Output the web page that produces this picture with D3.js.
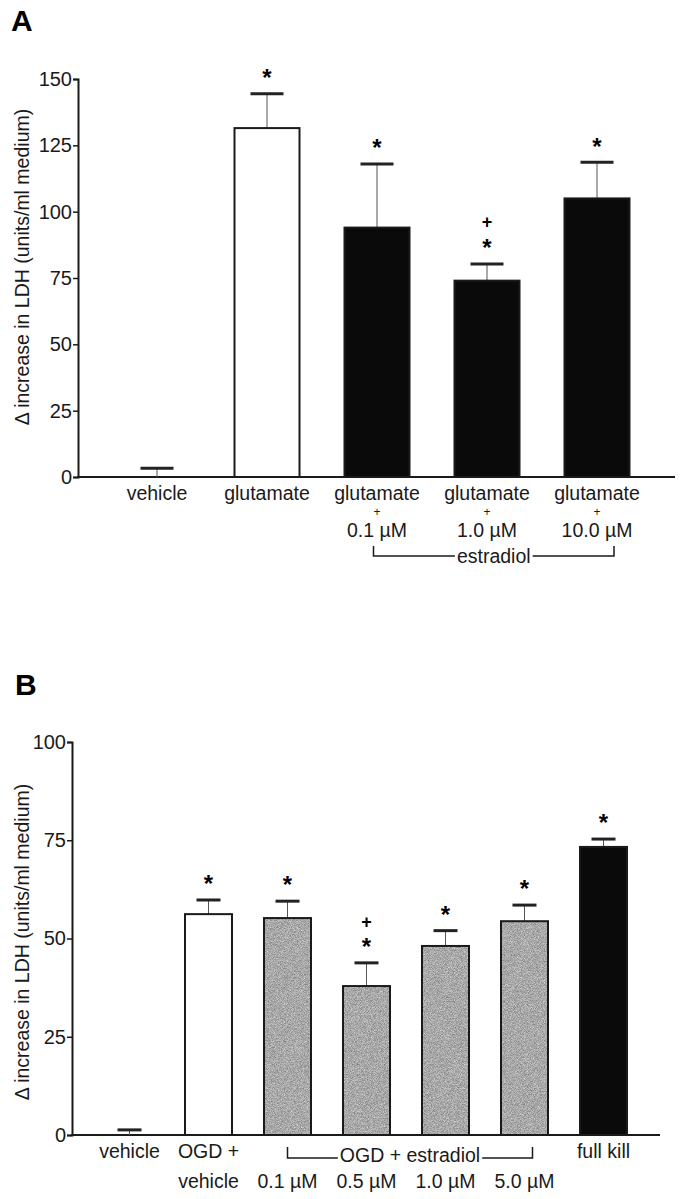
<!DOCTYPE html>
<html>
<head>
<meta charset="utf-8">
<script src="https://cdn.jsdelivr.net/npm/d3@7"></script>
<style>
  html, body { margin: 0; padding: 0; background: #fff; }
  svg { display: block; font-family: "Liberation Sans", Arial, Helvetica, sans-serif; }
</style>
</head>
<body>
<svg id="chart" width="680" height="1199"></svg>
<script>
// ---------- Panel A data ----------
const catsA   = ["vehicle", "glutamate", "glut+0.1", "glut+1.0", "glut+10.0"];
const meansA  = [0, 131.5, 94, 74, 105];
const semA    = [3.3, 12.9, 24, 6.3, 13.6];
const groupA  = ["none", "insult", "treat", "treat", "treat"];
const starA   = [false, true, true, true, true];
const plusA   = [false, false, false, true, false];
const labelsA = [["vehicle"], ["glutamate"], ["glutamate", "+", "0.1 µM"], ["glutamate", "+", "1.0 µM"], ["glutamate", "+", "10.0 µM"]];
const ticksA  = [0, 25, 50, 75, 100, 125, 150];
const bracketA = "estradiol";

// ---------- Panel B data ----------
const catsB   = ["vehicle", "OGD+vehicle", "0.1", "0.5", "1.0", "5.0", "full kill"];
const meansB  = [0, 56.2, 55.2, 37.9, 48.1, 54.4, 73.3];
const semB    = [1.3, 3.6, 4.3, 5.9, 3.9, 4.1, 2.0];
const groupB  = ["none", "insult", "treat", "treat", "treat", "treat", "kill"];
const starB   = [false, true, true, true, true, true, true];
const plusB   = [false, false, false, true, false, false, false];
const labelsB = [["vehicle", ""], ["OGD +", "vehicle"], ["", "0.1 µM"], ["", "0.5 µM"], ["", "1.0 µM"], ["", "5.0 µM"], ["full kill", ""]];
const ticksB  = [0, 25, 50, 75, 100];
const bracketB = "OGD + estradiol";

const yTitle = "Δ increase in LDH (units/ml medium)";

const svg = d3.select("#chart");
const defs = svg.append("defs");
const f = defs.append("filter").attr("id", "grain")
  .attr("x", 0).attr("y", 0).attr("width", "100%").attr("height", "100%")
  .attr("color-interpolation-filters", "sRGB");
f.append("feTurbulence").attr("type", "fractalNoise").attr("baseFrequency", 1.3)
  .attr("numOctaves", 1).attr("seed", 7).attr("result", "noise");
f.append("feColorMatrix").attr("in", "noise").attr("type", "matrix")
  .attr("values", "0.6 0 0 0 0.36  0.6 0 0 0 0.36  0.6 0 0 0 0.36  0 0 0 0 1").attr("result", "g");
f.append("feComposite").attr("in", "g").attr("in2", "SourceGraphic").attr("operator", "in");

const INK = "#1a1a1a";
const FS = 19.5;

function panel(cfg) {
  const g = svg.append("g");
  const x = d3.scaleBand().domain(cfg.cats).range(cfg.xRange)
    .paddingInner(cfg.pad).paddingOuter(cfg.pad / 2);
  const y = d3.scaleLinear().domain(cfg.yDomain).range(cfg.yRange);

  // y axis
  const ax = g.append("g").attr("transform", `translate(${cfg.axisX},0)`)
    .call(d3.axisLeft(y).tickValues(cfg.ticks).tickSize(5).tickPadding(1).tickFormat(d3.format("d")));
  ax.select(".domain").attr("stroke", INK).attr("stroke-width", 2);
  ax.selectAll(".tick line").attr("stroke", INK).attr("stroke-width", 1.5);
  ax.selectAll(".tick text").attr("fill", INK).style("font-size", "20px")
    .style("font-family", "'Liberation Sans', Arial, sans-serif");

  // x axis line
  g.append("line").attr("x1", cfg.axisX - 1).attr("x2", cfg.xEnd)
    .attr("y1", y(0)).attr("y2", y(0)).attr("stroke", INK).attr("stroke-width", 2);

  // y title
  g.append("text")
    .attr("transform", `translate(29,${cfg.titleY}) rotate(-90)`)
    .attr("text-anchor", "middle").attr("fill", INK).style("font-size", "19.5px")
    .text(yTitle);

  // panel letter
  g.append("text").attr("x", cfg.letterX).attr("y", cfg.letterY)
    .attr("fill", "#000").style("font-size", cfg.letterSize + "px").style("font-weight", 900)
    .text(cfg.letter);

  const idx = d3.range(cfg.cats.length);
  const bw = x.bandwidth();
  const cx = i => x(cfg.cats[i]) + bw / 2;

  // error bars (behind bars)
  idx.forEach(i => {
    const top = y(cfg.means[i] + cfg.sem[i]);
    g.append("line").attr("x1", cx(i)).attr("x2", cx(i))
      .attr("y1", y(cfg.means[i])).attr("y2", top)
      .attr("stroke", "#555").attr("stroke-width", 1);
    g.append("line").attr("x1", cx(i) - cfg.capW / 2).attr("x2", cx(i) + cfg.capW / 2)
      .attr("y1", top).attr("y2", top)
      .attr("stroke", "#222").attr("stroke-width", 3);
  });

  // bars
  idx.forEach(i => {
    const grp = cfg.groups[i];
    if (grp === "none") return;
    const bx = x(cfg.cats[i]), by = y(cfg.means[i]), bh = y(0) - y(cfg.means[i]);
    if (grp === "treat" && cfg.treatGrain) {
      g.append("rect").attr("x", bx).attr("y", by).attr("width", bw).attr("height", bh)
        .attr("fill", "#aaa").attr("filter", "url(#grain)");
      g.append("rect").attr("x", bx).attr("y", by).attr("width", bw).attr("height", bh)
        .attr("fill", "none").attr("stroke", INK).attr("stroke-width", 2);
    } else {
      const fill = grp === "insult" ? "#fff" : "#0a0a0a";
      g.append("rect").attr("x", bx).attr("y", by).attr("width", bw).attr("height", bh)
        .attr("fill", fill).attr("stroke", INK).attr("stroke-width", 2);
    }
  });

  // significance marks
  idx.forEach(i => {
    const cap = y(cfg.means[i] + cfg.sem[i]);
    if (cfg.star[i]) {
      const c = cap - 21;
      g.append("text").attr("x", cx(i)).attr("y", c + 0.55 * 24).attr("text-anchor", "middle")
        .style("font-size", "24px").style("font-weight", "bold").attr("fill", "#000").text("*");
    }
    if (cfg.plus[i]) {
      const c = cap - 21 - cfg.plusGap;
      g.append("text").attr("x", cx(i)).attr("y", c + 0.34 * 18).attr("text-anchor", "middle")
        .style("font-size", "18px").style("font-weight", "bold").attr("fill", "#000").text("+");
    }
  });

  // x labels
  idx.forEach(i => {
    cfg.labels[i].forEach((t, k) => {
      if (!t) return;
      const small = (t === "+");
      g.append("text").attr("x", cx(i)).attr("y", cfg.lineY[k])
        .attr("text-anchor", "middle").attr("fill", INK)
        .style("font-size", small ? "12px" : FS + "px").text(t);
    });
  });

  // bracket
  const b = cfg.bracket;
  const lx = cx(b.from) + b.dl, rx = cx(b.to) + b.dr;
  const mid = (lx + rx) / 2;
  const bt = g.append("text").attr("x", mid).attr("y", b.textY).attr("text-anchor", "middle")
    .attr("fill", INK).style("font-size", FS + "px").text(b.text);
  const tw = bt.node().getComputedTextLength();
  const path = d3.path();
  path.moveTo(lx, b.top); path.lineTo(lx, b.lineY); path.lineTo(mid - tw / 2 - 2, b.lineY);
  path.moveTo(mid + tw / 2 + 2, b.lineY); path.lineTo(rx, b.lineY); path.lineTo(rx, b.top);
  g.append("path").attr("d", path.toString()).attr("fill", "none")
    .attr("stroke", INK).attr("stroke-width", 1.5);
}

panel({
  cats: catsA, means: meansA, sem: semA, groups: groupA, star: starA, plus: plusA,
  labels: labelsA, ticks: ticksA, letter: "A", letterX: 11, letterY: 31, letterSize: 30,
  xRange: [102, 652], pad: 45 / 110, yDomain: [0, 150], yRange: [477, 79],
  axisX: 78, xEnd: 675, titleY: 267, capW: 33, plusGap: 21, treatGrain: false,
  lineY: [500, 516, 537],
  bracket: { from: 2, to: 4, dl: -3.5, dr: 17, top: 546, lineY: 556, textY: 563, text: bracketA }
});

panel({
  cats: catsB, means: meansB, sem: semB, groups: groupB, star: starB, plus: plusB,
  labels: labelsB, ticks: ticksB, letter: "B", letterX: 15, letterY: 695, letterSize: 30,
  xRange: [90, 643], pad: 32 / 79, yDomain: [0, 100], yRange: [1135, 742],
  axisX: 72, xEnd: 660, titleY: 942, capW: 24, plusGap: 20, treatGrain: true,
  lineY: [1158, 1188],
  bracket: { from: 2, to: 5, dl: 0, dr: 8, top: 1147, lineY: 1158, textY: 1162, text: bracketB }
});
</script>
</body>
</html>
